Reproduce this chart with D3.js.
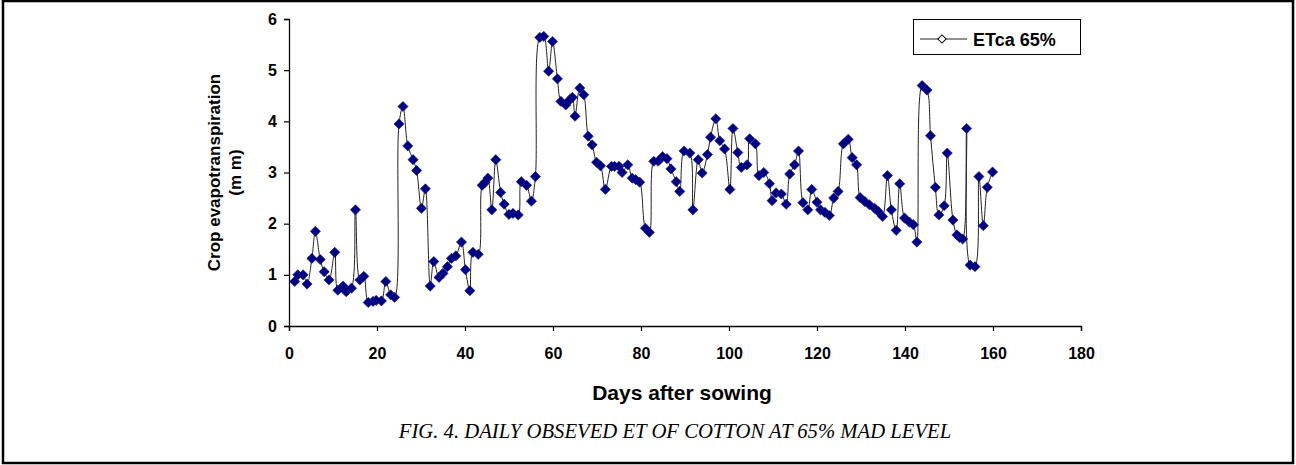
<!DOCTYPE html>
<html>
<head>
<meta charset="utf-8">
<script src="https://cdn.jsdelivr.net/npm/d3@7"></script>
<style>
  html, body { margin: 0; padding: 0; background: #fff; }
  svg { display: block; }
</style>
</head>
<body>
<svg id="chart" width="1296" height="465"></svg>
<script>
// ---- data ----
const days = [1.3,2,3.2,4.1,5.2,6,7.1,8,9.1,10.4,11.1,12.3,13,14.2,15.1,16.1,17,18,19.1,19.8,21,22,23.1,24,25,25.9,27,28.2,29,30.1,31,32.1,32.9,34.1,35,36,36.9,37.9,39.2,40.1,41.1,41.8,43,
  43.9,44.6,45.2,46.1,47,48.1,48.9,50,50.9,52.1,52.8,54,55.1,56,57,57.9,59,59.9,61,61.8,62.9,63.8,64.4,65,66.1,67,68,68.9,69.9,70.8,71.9,73.3,74,75,75.7,77,78,78.8,79.7,
  81,81.9,82.9,83.9,84.9,85.9,86.8,88,88.8,89.8,91.1,91.8,93,93.9,95.1,95.8,97,97.9,99,100.2,100.9,102,102.8,104.1,104.7,106,106.8,107.9,109.2,109.8,110.7,111.9,113,113.8,114.9,115.8,116.8,117.9,118.8,120,120.8,121.8,122.8,123.8,124.8,
  126,127.1,128,129,129.8,130.9,131.9,133.1,133.9,134.9,136,136.9,138,138.8,139.9,141,141.9,142.7,143.9,145,145.8,146.9,147.7,148.9,149.6,150.9,151.8,152.4,153.1,154,154.8,155.9,156.8,157.8,158.7,159.9];
const etValues = [0.87,1.0,1.0,0.82,1.32,1.85,1.3,1.06,0.9,1.44,0.7,0.78,0.67,0.74,2.27,0.9,0.97,0.46,0.48,0.5,0.49,0.87,0.61,0.56,3.95,4.29,3.52,3.25,3.04,2.3,2.68,0.78,1.26,0.95,1.03,1.16,1.32,1.37,1.64,1.1,0.69,1.44,1.4,
  2.75,2.81,2.89,2.27,3.25,2.61,2.38,2.18,2.2,2.17,2.82,2.75,2.44,2.92,5.64,5.66,4.98,5.56,4.83,4.39,4.32,4.42,4.47,4.1,4.65,4.52,3.71,3.54,3.2,3.13,2.67,3.12,3.12,3.12,3.0,3.15,2.89,2.86,2.81,
  1.91,1.83,3.22,3.22,3.31,3.27,3.07,2.82,2.63,3.42,3.38,2.27,3.25,2.99,3.35,3.69,4.05,3.62,3.46,2.67,3.86,3.39,3.1,3.15,3.66,3.56,2.94,3.0,2.78,2.45,2.6,2.58,2.38,2.97,3.15,3.42,2.41,2.27,2.67,2.42,2.27,2.22,2.16,2.5,2.63,
  3.56,3.65,3.29,3.15,2.51,2.43,2.37,2.3,2.24,2.14,2.94,2.27,1.87,2.78,2.11,2.03,1.98,1.64,4.7,4.61,3.72,2.71,2.17,2.35,3.38,2.07,1.78,1.73,1.7,3.86,1.19,1.16,2.92,1.96,2.71,3.01];
const xTicks = [0,20,40,60,80,100,120,140,160,180];
const yTicks = [0,1,2,3,4,5,6];
const seriesName = "ETca 65%";
const xTitle = "Days after sowing";
const yTitle1 = "Crop evapotranspiration";
const yTitle2 = "(m m)";
const caption = "FIG. 4. DAILY OBSEVED ET OF COTTON AT 65% MAD LEVEL";

const points = days.map((d, i) => ({ d, v: etValues[i] }));

const svg = d3.select("#chart");
const plot = { left: 289, right: 1081, top: 19, bottom: 326 };

// outer frame
svg.append("rect").attr("x", 3).attr("y", 1).attr("width", 1290).attr("height", 462)
  .attr("fill", "none").attr("stroke", "#000").attr("stroke-width", 2.5);

const x = d3.scaleLinear().domain([0, 180]).range([plot.left, plot.right]);
const y = d3.scaleLinear().domain([0, 6]).range([plot.bottom, plot.top]);

const axisFont = "'Liberation Sans', Arial, sans-serif";

// x axis
const gx = svg.append("g").attr("transform", `translate(0,${plot.bottom})`)
  .call(d3.axisBottom(x).tickValues(xTicks).tickSize(5).tickPadding(17).tickFormat(d3.format("d")));
gx.select(".domain").attr("stroke", "#000").attr("stroke-width", 1.3);
gx.selectAll(".tick line").attr("stroke", "#000").attr("stroke-width", 1.2);
gx.selectAll(".tick text").attr("font-family", axisFont).attr("font-size", 16)
  .attr("font-weight", "bold").attr("fill", "#000");

// y axis
const gy = svg.append("g").attr("transform", `translate(${plot.left},0)`)
  .call(d3.axisLeft(y).tickValues(yTicks).tickSize(5).tickPadding(7).tickFormat(d3.format("d")));
gy.select(".domain").attr("stroke", "#000").attr("stroke-width", 1.3);
gy.selectAll(".tick line").attr("stroke", "#000").attr("stroke-width", 1.2);
gy.selectAll(".tick text").attr("font-family", axisFont).attr("font-size", 16)
  .attr("font-weight", "bold").attr("fill", "#000");

// line
const line = d3.line().x(p => x(p.d)).y(p => y(p.v)).curve(d3.curveCatmullRom.alpha(0.5));
svg.append("path").datum(points).attr("d", line)
  .attr("fill", "none").attr("stroke", "#222").attr("stroke-width", 1);

// markers (diamonds)
const diamond = d3.symbol().type(d3.symbolSquare).size(52);
svg.append("g").selectAll("path").data(points).join("path")
  .attr("d", diamond)
  .attr("transform", p => `translate(${x(p.d)},${y(p.v)}) rotate(45)`)
  .attr("fill", "#000080").attr("stroke", "#1a1a8c").attr("stroke-width", 0.6);

// legend
const lg = svg.append("g");
lg.append("rect").attr("x", 913.5).attr("y", 19.5).attr("width", 167).attr("height", 35)
  .attr("fill", "#fff").attr("stroke", "#000").attr("stroke-width", 1);
lg.append("line").attr("x1", 920).attr("x2", 967).attr("y1", 39).attr("y2", 39)
  .attr("stroke", "#222").attr("stroke-width", 1);
lg.append("path").attr("d", d3.symbol().type(d3.symbolSquare).size(34))
  .attr("transform", "translate(942,39) rotate(45)")
  .attr("fill", "#fff").attr("stroke", "#000").attr("stroke-width", 1);
lg.append("text").attr("x", 973).attr("y", 45.5).text(seriesName)
  .attr("font-family", axisFont).attr("font-size", 18).attr("font-weight", "bold").attr("fill", "#000");

// axis titles
svg.append("text").attr("x", (plot.left + plot.right) / 2 - 3).attr("y", 400).text(xTitle)
  .attr("text-anchor", "middle").attr("font-family", axisFont).attr("font-size", 21)
  .attr("font-weight", "bold").attr("fill", "#000");

const yt = svg.append("text").attr("transform", `translate(220,${(plot.top + plot.bottom) / 2}) rotate(-90)`)
  .attr("text-anchor", "middle").attr("font-family", axisFont).attr("font-size", 17)
  .attr("font-weight", "bold").attr("fill", "#000");
yt.append("tspan").attr("x", 0).attr("y", 0).text(yTitle1);
yt.append("tspan").attr("x", 0).attr("y", 21).text(yTitle2);

// caption
svg.append("text").attr("x", 675).attr("y", 438).text(caption)
  .attr("text-anchor", "middle").attr("font-family", "'Liberation Serif', 'Times New Roman', serif")
  .attr("font-size", 20.7).attr("font-style", "italic").attr("fill", "#000");
</script>
</body>
</html>
